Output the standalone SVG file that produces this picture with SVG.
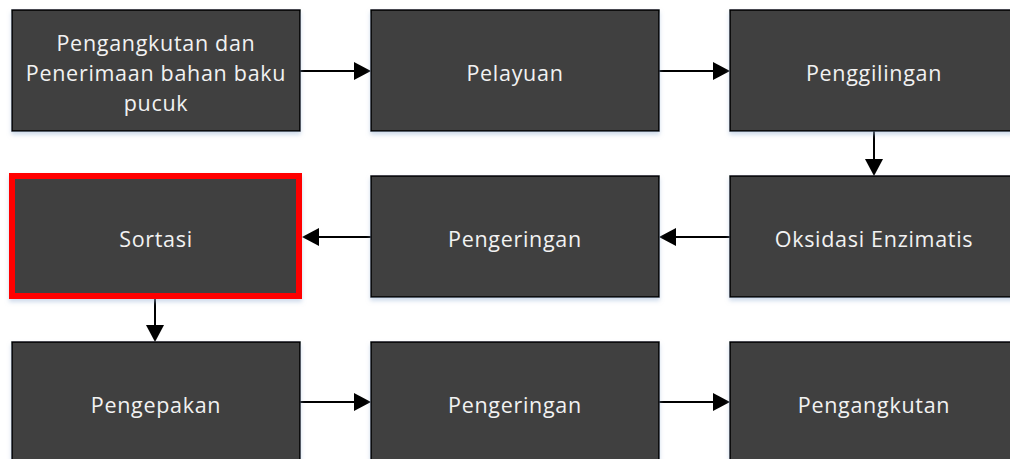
<svg xmlns="http://www.w3.org/2000/svg" width="1010" height="459" viewBox="0 0 1010 459">
<style>
.box{fill:#404040;stroke:#000;stroke-width:1.5;filter:url(#sh)}
.hl{fill:#404040;stroke:#ff0000;stroke-width:6;filter:url(#sh)}
.t{font-family:"Open Sans","Noto Sans",sans-serif;font-size:21.5px;fill:#f2f2f2;text-anchor:middle;dominant-baseline:central;letter-spacing:0.7px}
.ln{stroke:#000;stroke-width:2;fill:none}
.hd{fill:#000}
</style>
<defs>
<filter id="sh" x="-5%" y="-5%" width="110%" height="115%">
<feDropShadow dx="0" dy="3" stdDeviation="2" flood-color="#9fb8d8" flood-opacity="0.5"/>
</filter>
</defs>
<rect width="1010" height="459" fill="#fff"/>
<g id="connectors">
<path class="ln" d="M300,71 L354,71"/>
<path class="hd" d="M354,62 L371,71 L354,80 z"/>
<path class="ln" d="M659,71 L713,71"/>
<path class="hd" d="M713,62 L730,71 L713,80 z"/>
<path class="ln" d="M874,131 L874,159"/>
<path class="hd" d="M865,159 L874,176 L883,159 z"/>
<path class="ln" d="M730,237 L676,237"/>
<path class="hd" d="M676,228 L659,237 L676,246 z"/>
<path class="ln" d="M371,237 L319,237"/>
<path class="hd" d="M319,228 L302,237 L319,246 z"/>
<path class="ln" d="M155,299 L155,325"/>
<path class="hd" d="M146,325 L155,342 L164,325 z"/>
<path class="ln" d="M300,402 L354,402"/>
<path class="hd" d="M354,393 L371,402 L354,411 z"/>
<path class="ln" d="M659,402 L713,402"/>
<path class="hd" d="M713,393 L730,402 L713,411 z"/>
</g>
<g id="n1"><rect class="box" x="12" y="10" width="288" height="121"/>
<text class="t" x="156" y="42">Pengangkutan dan</text>
<text class="t" x="156" y="72">Penerimaan bahan baku</text>
<text class="t" x="156" y="102">pucuk</text></g>
<g id="n2"><rect class="box" x="371" y="10" width="288" height="121"/>
<text class="t" x="515" y="72">Pelayuan</text></g>
<g id="n3"><rect class="box" x="730" y="10" width="288" height="121"/>
<text class="t" x="874" y="72">Penggilingan</text></g>
<g id="n4"><rect class="hl" x="12" y="176" width="287" height="120"/>
<text class="t" x="156" y="238">Sortasi</text></g>
<g id="n5"><rect class="box" x="371" y="176" width="288" height="121"/>
<text class="t" x="515" y="238">Pengeringan</text></g>
<g id="n6"><rect class="box" x="730" y="176" width="288" height="121"/>
<text class="t" x="874" y="238">Oksidasi Enzimatis</text></g>
<g id="n7"><rect class="box" x="12" y="342" width="288" height="121"/>
<text class="t" x="156" y="404">Pengepakan</text></g>
<g id="n8"><rect class="box" x="371" y="342" width="288" height="121"/>
<text class="t" x="515" y="404">Pengeringan</text></g>
<g id="n9"><rect class="box" x="730" y="342" width="288" height="121"/>
<text class="t" x="874" y="404">Pengangkutan</text></g>
</svg>
